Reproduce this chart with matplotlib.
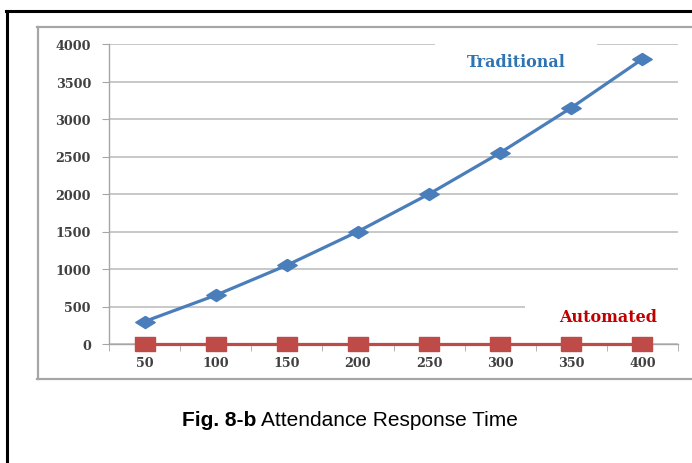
import matplotlib
matplotlib.use("Agg")
import matplotlib.pyplot as plt
from matplotlib.lines import Line2D
from matplotlib.patches import Rectangle

categories = ["50", "100", "150", "200", "250", "300", "350", "400"]
traditional = [300, 650, 1050, 1500, 2000, 2550, 3150, 3800]
automated = [0, 0, 0, 0, 0, 0, 0, 0]
yticks = [0, 500, 1000, 1500, 2000, 2500, 3000, 3500, 4000]

W, H = 692, 464
fig = plt.figure(figsize=(W / 100, H / 100), dpi=100)
fig.patch.set_facecolor("white")

def fx(px):
    return px / W

def fy(py):
    return 1 - py / H

# outer black border (only left/top visible)
fig.add_artist(Line2D([fx(7), fx(7)], [fy(12), fy(470)], color="black", lw=2.2, transform=fig.transFigure))
fig.add_artist(Line2D([fx(6), fx(700)], [fy(12), fy(12)], color="black", lw=2.2, transform=fig.transFigure))

# chart area box (gray)
fig.add_artist(Line2D([fx(37.5), fx(37.5)], [fy(27.5), fy(380)], color="#a6a6a6", lw=1.6, transform=fig.transFigure))
fig.add_artist(Line2D([fx(37), fx(700)], [fy(27.5), fy(27.5)], color="#a6a6a6", lw=1.6, transform=fig.transFigure))
fig.add_artist(Line2D([fx(37), fx(700)], [fy(380), fy(380)], color="#a6a6a6", lw=1.6, transform=fig.transFigure))

ax = fig.add_axes([fx(109), fy(345), fx(678) - fx(109), fy(45) - fy(345)])
x = list(range(len(categories)))
ax.set_xlim(-0.5, len(categories) - 0.5)
ax.set_ylim(0, 4000)
ax.set_yticks(yticks)
ax.set_yticklabels([str(v) for v in yticks])
ax.set_xticks(x)
ax.set_xticklabels(categories)
ax.set_xticks([i - 0.5 for i in range(len(categories) + 1)], minor=True)
ax.grid(axis="y", color="#bfbfbf", lw=1.2, zorder=0)
ax.set_axisbelow(True)
for s in ["top", "right"]:
    ax.spines[s].set_visible(False)
ax.spines["left"].set_color("#a6a6a6")
ax.spines["bottom"].set_color("#a6a6a6")
ax.spines["left"].set_linewidth(1.0)
ax.spines["bottom"].set_linewidth(1.0)
ax.tick_params(axis="y", length=5, color="#a6a6a6", pad=8)
ax.tick_params(axis="x", which="major", length=0, pad=9)
ax.tick_params(axis="x", which="minor", length=5, color="#a6a6a6")
for lab in ax.get_xticklabels() + ax.get_yticklabels():
    lab.set_fontfamily("DejaVu Serif")
    lab.set_fontweight("bold")
    lab.set_fontsize(9.2)
    lab.set_color("#404040")

diamond = [(0, 1), (1.6, 0), (0, -1), (-1.6, 0), (0, 1)]
wide_sq = [(-1.5, -1), (1.5, -1), (1.5, 1), (-1.5, 1), (-1.5, -1)]

ax.plot(x, traditional, color="#4a7ebb", lw=2.3, marker=diamond, ms=14,
        markerfacecolor="#4a7ebb", markeredgecolor="#4a7ebb", zorder=3, clip_on=False)
ax.plot(x, automated, color="#be4b48", lw=2.3, marker=wide_sq, ms=15,
        markerfacecolor="#be4b48", markeredgecolor="#be4b48", zorder=4, clip_on=False)

# white label boxes hiding the gridlines
ax.add_patch(Rectangle((4.085, 3650), 6.36 - 4.085, 450, facecolor="white",
                       edgecolor="none", zorder=1, clip_on=False))
ax.add_patch(Rectangle((5.35, 250), 7.6 - 5.35, 320, facecolor="white",
                       edgecolor="none", zorder=1, clip_on=False))

ax.text(5.22, 3773, "Traditional", color="#2e74b5", fontsize=11.5, fontweight="bold",
        fontfamily="DejaVu Serif", ha="center", va="center", zorder=2)
ax.text(6.52, 360, "Automated", color="#c00000", fontsize=11.5, fontweight="bold",
        fontfamily="DejaVu Serif", ha="center", va="center", zorder=2)

t1 = fig.text(fx(182), fy(421), "Fig. 8-b", fontsize=15, fontweight="bold",
              fontfamily="Liberation Sans", ha="left", va="center", color="black")
fig.canvas.draw()
bb = t1.get_window_extent()
fig.text(bb.x1 / W + fx(5), fy(421), "Attendance Response Time", fontsize=15,
         fontfamily="Liberation Sans", ha="left", va="center", color="black")

fig.savefig("out.png", dpi=100)
